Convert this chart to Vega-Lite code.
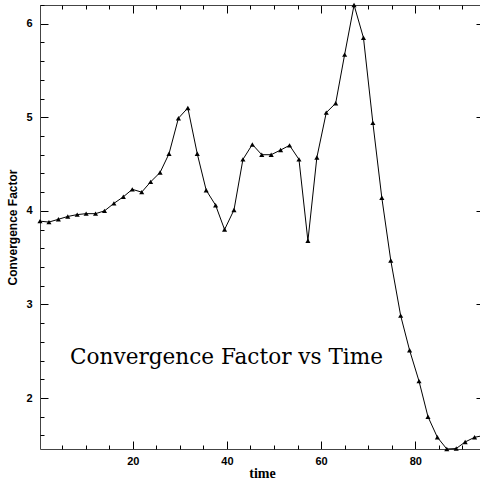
{
  "$schema": "https://vega.github.io/schema/vega-lite/v6.json",
  "width": 444,
  "height": 444,
  "autosize": {"type": "none"},
  "padding": {"left": 40, "top": 5, "right": 0, "bottom": 31},
  "background": "white",
  "title": {
    "text": "Convergence Factor vs Time",
    "orient": "top",
    "anchor": "start",
    "frame": "group",
    "offset": 0,
    "baseline": "alphabetic",
    "dx": 30,
    "dy": 383,
    "font": "DejaVu Serif",
    "fontSize": 21.6,
    "fontWeight": "normal",
    "color": "black"
  },
  "config": {
    "view": {"stroke": null},
    "axis": {
      "grid": false,
      "labelFont": "Liberation Sans",
      "labelFontWeight": "bold",
      "labelFontSize": 11,
      "labelColor": "black",
      "tickColor": "black",
      "domainColor": "#444",
      "titleColor": "black"
    }
  },
  "data": {
    "values": [
      {"time": 0.3, "value": 3.89},
      {"time": 2.2, "value": 3.88},
      {"time": 4.2, "value": 3.91},
      {"time": 6.2, "value": 3.94},
      {"time": 8.2, "value": 3.96},
      {"time": 10.1, "value": 3.97},
      {"time": 12.1, "value": 3.97},
      {"time": 14.0, "value": 4.0},
      {"time": 16.0, "value": 4.08},
      {"time": 18.0, "value": 4.15},
      {"time": 19.9, "value": 4.23},
      {"time": 21.9, "value": 4.2},
      {"time": 23.8, "value": 4.31},
      {"time": 25.8, "value": 4.41},
      {"time": 27.7, "value": 4.61},
      {"time": 29.7, "value": 4.99},
      {"time": 31.7, "value": 5.1},
      {"time": 33.7, "value": 4.61},
      {"time": 35.6, "value": 4.22},
      {"time": 37.6, "value": 4.06},
      {"time": 39.5, "value": 3.8},
      {"time": 41.5, "value": 4.01},
      {"time": 43.4, "value": 4.55},
      {"time": 45.4, "value": 4.71},
      {"time": 47.4, "value": 4.6},
      {"time": 49.4, "value": 4.6},
      {"time": 51.4, "value": 4.65},
      {"time": 53.3, "value": 4.7},
      {"time": 55.3, "value": 4.55},
      {"time": 57.2, "value": 3.68},
      {"time": 59.1, "value": 4.57},
      {"time": 61.1, "value": 5.05},
      {"time": 63.1, "value": 5.15},
      {"time": 65.0, "value": 5.67},
      {"time": 67.0, "value": 6.2},
      {"time": 69.0, "value": 5.85},
      {"time": 71.0, "value": 4.94},
      {"time": 72.9, "value": 4.14},
      {"time": 74.8, "value": 3.47},
      {"time": 76.9, "value": 2.88},
      {"time": 78.8, "value": 2.51},
      {"time": 80.8, "value": 2.18},
      {"time": 82.7, "value": 1.8},
      {"time": 84.7, "value": 1.58},
      {"time": 86.7, "value": 1.455},
      {"time": 88.7, "value": 1.46},
      {"time": 90.6, "value": 1.53},
      {"time": 92.6, "value": 1.58},
      {"time": 94.6, "value": 1.6}
    ]
  },
  "layer": [
    {
      "mark": {"type": "line", "color": "black", "strokeWidth": 1},
      "encoding": {
        "x": {"field": "time", "type": "quantitative", "scale": {"zero": false, "nice": false},
          "axis": {"orient": "bottom", "values": [20, 40, 60, 80], "tickSize": -8, "labelPadding": 14,
            "title": "time", "titleFont": "Liberation Serif", "titleFontSize": 14, "titleFontWeight": "bold", "titlePadding": 0}},
        "y": {"field": "value", "type": "quantitative", "scale": {"zero": false, "nice": false},
          "axis": {"orient": "left", "values": [2, 3, 4, 5, 6], "tickSize": -8, "labelPadding": 16,
            "title": "Convergence Factor", "titleFont": "Liberation Sans", "titleFontSize": 12, "titleFontWeight": "bold", "titlePadding": 6}}
      }
    },
    {
      "mark": {"type": "point", "shape": "triangle-up", "filled": true, "color": "black", "size": 26, "opacity": 1},
      "encoding": {
        "x": {"field": "time", "type": "quantitative", "scale": {"zero": false, "nice": false},
          "axis": {"orient": "bottom", "values": [5, 10, 15, 25, 30, 35, 45, 50, 55, 65, 70, 75, 85, 90], "tickSize": -4, "labels": false, "domain": false, "title": null}},
        "y": {"field": "value", "type": "quantitative", "scale": {"zero": false, "nice": false},
          "axis": {"orient": "left", "values": [1.6, 1.8, 2.2, 2.4, 2.6, 2.8, 3.2, 3.4, 3.6, 3.8, 4.2, 4.4, 4.6, 4.8, 5.2, 5.4, 5.6, 5.8, 6.2], "tickSize": -4, "labels": false, "domain": false, "title": null}}
      }
    },
    {
      "mark": {"type": "line", "strokeOpacity": 0},
      "encoding": {
        "x": {"field": "time", "type": "quantitative", "scale": {"zero": false, "nice": false},
          "axis": {"orient": "top", "values": [20, 40, 60, 80], "tickSize": -8, "labels": false, "title": null}},
        "y": {"field": "value", "type": "quantitative", "scale": {"zero": false, "nice": false},
          "axis": {"orient": "right", "values": [2, 3, 4, 5, 6], "tickSize": -8, "labels": false, "title": null}}
      }
    },
    {
      "mark": {"type": "line", "strokeOpacity": 0},
      "encoding": {
        "x": {"field": "time", "type": "quantitative", "scale": {"zero": false, "nice": false},
          "axis": {"orient": "top", "values": [5, 10, 15, 25, 30, 35, 45, 50, 55, 65, 70, 75, 85, 90], "tickSize": -4, "labels": false, "domain": false, "title": null}},
        "y": {"field": "value", "type": "quantitative", "scale": {"zero": false, "nice": false},
          "axis": {"orient": "right", "values": [1.6, 1.8, 2.2, 2.4, 2.6, 2.8, 3.2, 3.4, 3.6, 3.8, 4.2, 4.4, 4.6, 4.8, 5.2, 5.4, 5.6, 5.8, 6.2], "tickSize": -4, "labels": false, "domain": false, "title": null}}
      }
    }
  ],
  "resolve": {"axis": {"x": "independent", "y": "independent"}}
}
